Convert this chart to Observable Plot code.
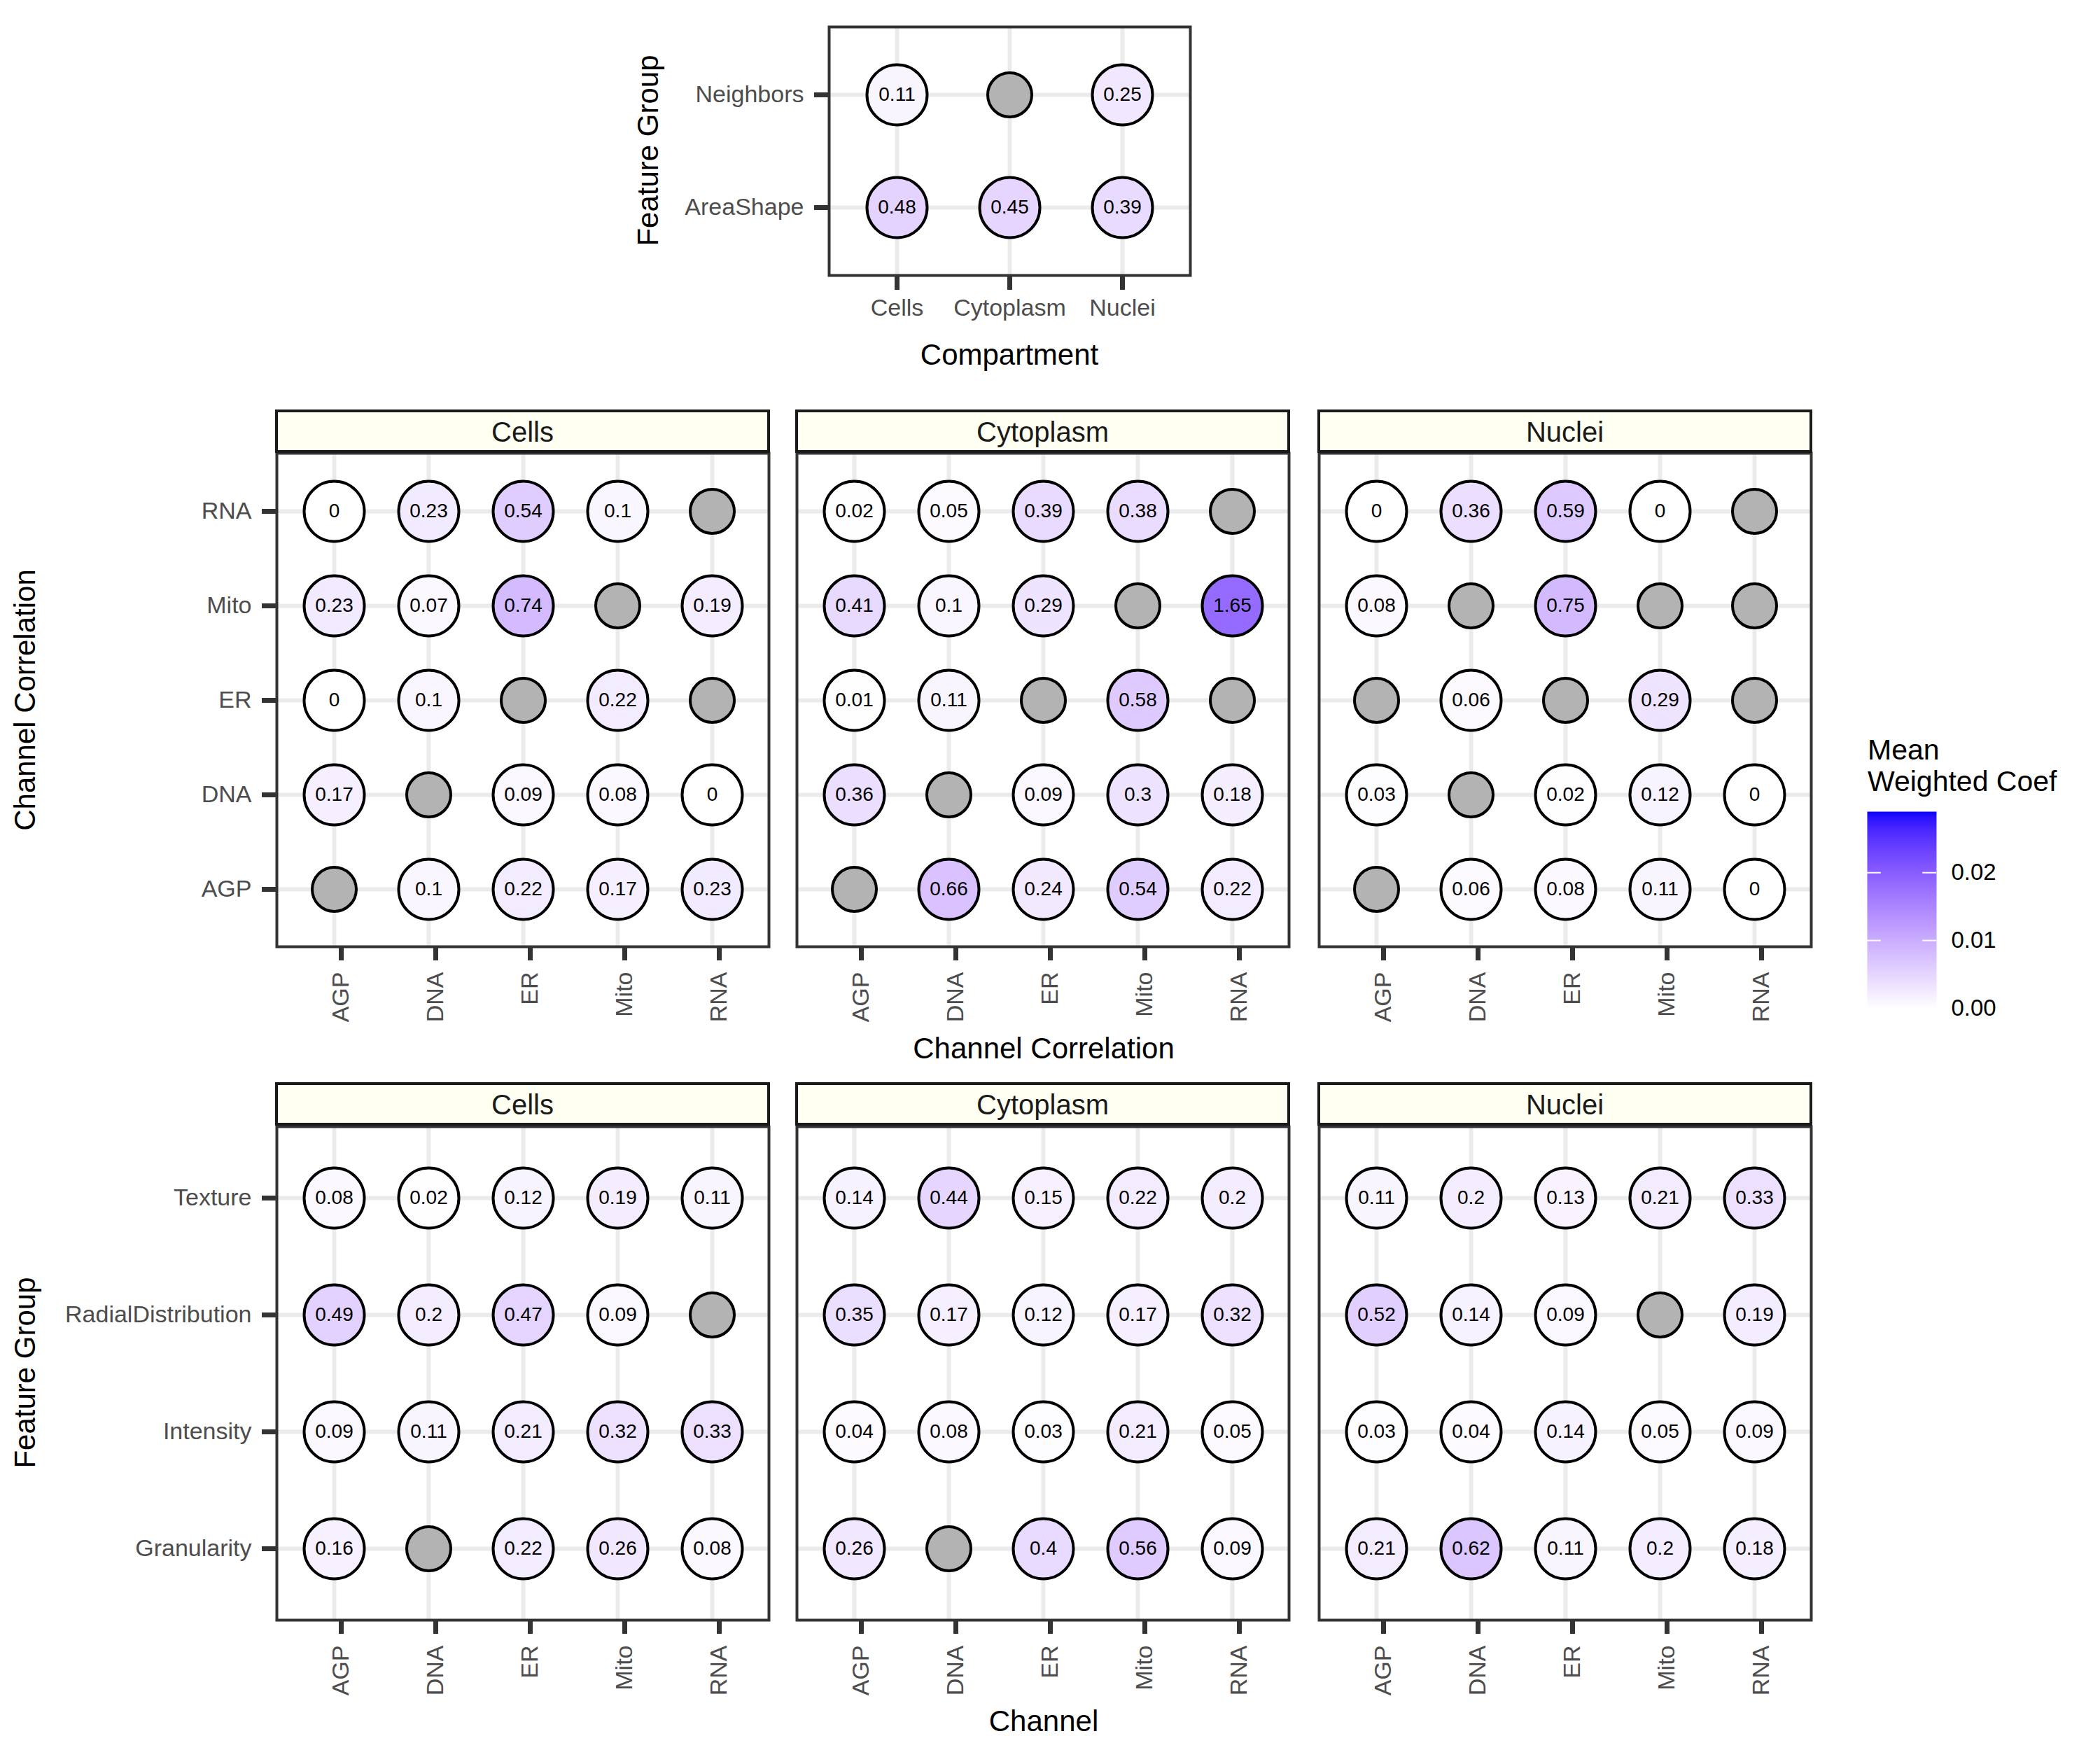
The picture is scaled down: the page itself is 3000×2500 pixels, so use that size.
<!DOCTYPE html>
<html><head><meta charset="utf-8">
<script src="https://cdn.jsdelivr.net/npm/d3@7"></script>
<script src="https://cdn.jsdelivr.net/npm/@observablehq/plot@0.6"></script>
<style>
body{margin:0;background:#fff;}
#root{position:relative;width:3000px;height:2500px;background:#fff;overflow:hidden;}
.abs{position:absolute;}
</style></head><body><div id="root"></div>
<script>
// ---------------- data ----------------
const compartments = ["Cells", "Cytoplasm", "Nuclei"];
const channels = ["AGP", "DNA", "ER", "Mito", "RNA"];
const topGroups = ["AreaShape", "Neighbors"];
const featureGroups = ["Granularity", "Intensity", "RadialDistribution", "Texture"];
const legendTicks = [0, 0.01, 0.02];

// top panel: rows = topGroups, columns = compartments (null = no value, grey dot)
const topValues = [
  [0.48, 0.45, 0.39],
  [0.11, null, 0.25]
];

// channel correlation: rows = y channel (AGP..RNA), columns = x channel (AGP..RNA)
const corrCells = [
  [null, 0.1, 0.22, 0.17, 0.23],
  [0.17, null, 0.09, 0.08, 0],
  [0, 0.1, null, 0.22, null],
  [0.23, 0.07, 0.74, null, 0.19],
  [0, 0.23, 0.54, 0.1, null]
];
const corrCytoplasm = [
  [null, 0.66, 0.24, 0.54, 0.22],
  [0.36, null, 0.09, 0.3, 0.18],
  [0.01, 0.11, null, 0.58, null],
  [0.41, 0.1, 0.29, null, 1.65],
  [0.02, 0.05, 0.39, 0.38, null]
];
const corrNuclei = [
  [null, 0.06, 0.08, 0.11, 0],
  [0.03, null, 0.02, 0.12, 0],
  [null, 0.06, null, 0.29, null],
  [0.08, null, 0.75, null, null],
  [0, 0.36, 0.59, 0, null]
];

// feature groups: rows = featureGroups, columns = channels
const featCells = [
  [0.16, null, 0.22, 0.26, 0.08],
  [0.09, 0.11, 0.21, 0.32, 0.33],
  [0.49, 0.2, 0.47, 0.09, null],
  [0.08, 0.02, 0.12, 0.19, 0.11]
];
const featCytoplasm = [
  [0.26, null, 0.4, 0.56, 0.09],
  [0.04, 0.08, 0.03, 0.21, 0.05],
  [0.35, 0.17, 0.12, 0.17, 0.32],
  [0.14, 0.44, 0.15, 0.22, 0.2]
];
const featNuclei = [
  [0.21, 0.62, 0.11, 0.2, 0.18],
  [0.03, 0.04, 0.14, 0.05, 0.09],
  [0.52, 0.14, 0.09, null, 0.19],
  [0.11, 0.2, 0.13, 0.21, 0.33]
];

// ---------------- drawing ----------------
const FONT = '"Liberation Sans", Arial, Helvetica, sans-serif';
const root = document.getElementById("root");
const interp = d3.interpolateLab("#ffffff", "#0000ff");

function toRecords(matrix, xs, ys) {
  const out = [];
  matrix.forEach((row, i) => row.forEach((v, j) => out.push({x: xs[j], y: ys[i], v})));
  return out;
}

function place(svg, left, top) {
  const div = document.createElement("div");
  div.className = "abs";
  div.style.left = left + "px";
  div.style.top = top + "px";
  div.appendChild(svg);
  root.appendChild(div);
}

function dotPanel({records, xDomain, yDomain, fx, fy, fw, fh, showY, rotateX, ml}) {
  const mt = 4, mr = 4, mb = 150;
  ml = showY ? ml : 4;
  const marks = [
    Plot.gridX({stroke: "#ebebeb", strokeOpacity: 1, strokeWidth: 6}),
    Plot.gridY({stroke: "#ebebeb", strokeOpacity: 1, strokeWidth: 6}),
    Plot.frame({stroke: "#333333", strokeWidth: 4}),
    Plot.axisX(rotateX
      ? {tickSize: 20, tickPadding: 16, tickRotate: -90, dx: 10, fontSize: 34, fill: "#4d4d4d", stroke: "#333333", strokeWidth: 7, label: null}
      : {tickSize: 21, tickPadding: 12, fontSize: 34, fill: "#4d4d4d", stroke: "#333333", strokeWidth: 7, label: null}),
    Plot.dot(records.filter(d => d.v == null), {x: "x", y: "y", r: 31.5, fill: "#b3b3b3", stroke: "#000", strokeWidth: 4}),
    Plot.dot(records.filter(d => d.v != null), {x: "x", y: "y", r: 43, fill: "v", stroke: "#000", strokeWidth: 4}),
    Plot.text(records.filter(d => d.v != null), {x: "x", y: "y", text: d => String(d.v), fontSize: 28, fill: "#000"})
  ];
  if (showY) marks.push(Plot.axisY({tickSize: 21, tickPadding: 15, fontSize: 34, fill: "#4d4d4d", stroke: "#333333", strokeWidth: 7, label: null}));
  const plot = Plot.plot({
    width: fw + ml + mr, height: fh + mt + mb,
    marginLeft: ml, marginRight: mr, marginTop: mt, marginBottom: mb,
    style: {fontFamily: FONT, background: "transparent", overflow: "visible", maxWidth: "none"},
    x: {type: "point", domain: xDomain, padding: 0.6},
    y: {type: "point", domain: yDomain, padding: 0.6, reverse: true, axis: showY ? undefined : null},
    color: {type: "linear", domain: [0, 2.6], interpolate: interp},
    marks
  });
  place(plot, fx - ml, fy - mt);
}

// top panel
dotPanel({records: toRecords(topValues, compartments, topGroups), xDomain: compartments, yDomain: topGroups,
  fx: 1184, fy: 38, fw: 516, fh: 355, showY: true, rotateX: false, ml: 260});

// facet panels
const panelX = [395, 1138, 1884];
const panelW = 703;
const corrData = [corrCells, corrCytoplasm, corrNuclei];
const featData = [featCells, featCytoplasm, featNuclei];
compartments.forEach((c, i) => {
  dotPanel({records: toRecords(corrData[i], channels, channels), xDomain: channels, yDomain: channels,
    fx: panelX[i], fy: 647, fw: panelW, fh: 705, showY: i === 0, rotateX: true, ml: 300});
  dotPanel({records: toRecords(featData[i], channels, featureGroups), xDomain: channels, yDomain: featureGroups,
    fx: panelX[i], fy: 1609, fw: panelW, fh: 705, showY: i === 0, rotateX: true, ml: 380});
});

// legend (colour bar)
const legend = Plot.plot({
  width: 99 + 140, height: 281 + 40, marginLeft: 0, marginRight: 140, marginTop: 20, marginBottom: 20,
  style: {fontFamily: FONT, background: "transparent", overflow: "visible", maxWidth: "none"},
  x: {domain: [0, 1], axis: null},
  y: {domain: [0, 0.029]},
  color: {type: "linear", domain: [0, 0.029], interpolate: interp},
  marks: [
    Plot.raster({x1: 0, x2: 1, y1: 0, y2: 0.029, width: 4, height: 300, fill: (x, y) => y}),
    Plot.ruleY(legendTicks, {x1: 0, x2: 0.2, stroke: "white", strokeWidth: 2}),
    Plot.ruleY(legendTicks, {x1: 0.8, x2: 1, stroke: "white", strokeWidth: 2}),
    Plot.axisY(legendTicks, {anchor: "right", tickSize: 0, tickPadding: 21, tickFormat: d => d.toFixed(2), fontSize: 33, fill: "#000", label: null})
  ]
});
place(legend, 2667, 1159 - 20);

// overlay: strips, axis titles, legend title
const ov = d3.select(root).append("svg")
  .attr("width", 3000).attr("height", 2500)
  .style("position", "absolute").style("left", "0px").style("top", "0px")
  .style("font-family", FONT).style("pointer-events", "none");

function txt(s, x, y, {size = 42, anchor = "middle", rotate = 0, color = "#000"} = {}) {
  ov.append("text").attr("transform", `translate(${x},${y}) rotate(${rotate})`)
    .attr("text-anchor", anchor).attr("font-size", size).attr("fill", color).text(s);
}

[587, 1548].forEach(sy => {
  compartments.forEach((c, i) => {
    ov.append("rect").attr("x", panelX[i]).attr("y", sy).attr("width", panelW).attr("height", 58)
      .attr("fill", "#fffff2").attr("stroke", "#1a1a1a").attr("stroke-width", 4);
    txt(c, panelX[i] + panelW / 2, sy + 44, {size: 40, color: "#1a1a1a"});
  });
});

txt("Feature Group", 940, 215, {rotate: -90});
txt("Compartment", 1442, 521);
txt("Channel Correlation", 50, 1000, {rotate: -90});
txt("Channel Correlation", 1491, 1512);
txt("Feature Group", 50, 1961, {rotate: -90});
txt("Channel", 1491, 2473);
txt("Mean", 2668, 1085, {size: 41, anchor: "start"});
txt("Weighted Coef", 2668, 1130, {size: 41, anchor: "start"});
</script></body></html>
